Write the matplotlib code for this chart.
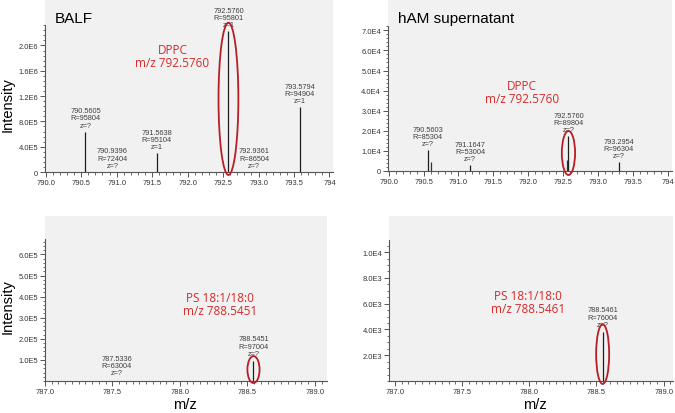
import matplotlib.pyplot as plt
import numpy as np
from matplotlib.patches import Ellipse
from matplotlib.ticker import MultipleLocator

# ---- data ----
balf_top_mz = [790.5605, 790.9396, 791.5638, 792.5760, 792.9361, 793.5794]
balf_top_int = [6.4e5, 5.0e3, 3.0e5, 2.23e6, 5.0e3, 1.03e6]
balf_top_res = [95804, 72404, 95104, 95801, 86504, 94904]
balf_top_z = ['?', '?', '1', '1', '?', '1']

ham_top_mz = [790.5603, 791.1647, 792.5760, 793.2954]
ham_top_int = [1.05e4, 3.0e3, 1.75e4, 4.5e3]
ham_top_res = [85304, 53004, 89804, 96304]
ham_top_z = ['?', '?', '?', '?']
# unlabelled shoulder peaks
ham_top_extra_mz = [790.6080, 792.5530]
ham_top_extra_int = [4.5e3, 5.5e3]

balf_bot_mz = [787.5336, 788.5451]
balf_bot_int = [2.0e3, 9.5e4]
balf_bot_res = [63004, 97004]
balf_bot_z = ['?', '?']

ham_bot_mz = [788.5461]
ham_bot_int = [3.8e3]
ham_bot_res = [76004]
ham_bot_z = ['?']

top_xticks = [790.0, 790.5, 791.0, 791.5, 792.0, 792.5, 793.0, 793.5, 794.0]
top_xlabels = ['790.0', '790.5', '791.0', '791.5', '792.0', '792.5', '793.0', '793.5', '794']
bot_xticks = [787.0, 787.5, 788.0, 788.5, 789.0]
bot_xlabels = ['787.0', '787.5', '788.0', '788.5', '789.0']

balf_top_yticks = [0, 4e5, 8e5, 1.2e6, 1.6e6, 2.0e6]
balf_top_ylabels = ['0', '4.0E5', '8.0E5', '1.2E6', '1.6E6', '2.0E6']
ham_top_yticks = [0, 1e4, 2e4, 3e4, 4e4, 5e4, 6e4, 7e4]
ham_top_ylabels = ['0', '1.0E4', '2.0E4', '3.0E4', '4.0E4', '5.0E4', '6.0E4', '7.0E4']
balf_bot_yticks = [1e5, 2e5, 3e5, 4e5, 5e5, 6e5]
balf_bot_ylabels = ['1.0E5', '2.0E5', '3.0E5', '4.0E5', '5.0E5', '6.0E5']
ham_bot_yticks = [2e3, 4e3, 6e3, 8e3, 1e4]
ham_bot_ylabels = ['2.0E3', '4.0E3', '6.0E3', '8.0E3', '1.0E4']

RED = '#d42a2a'
RING = '#b81e24'
BG = '#f1f1f1'
FONT = 'Liberation Sans'

plt.rcParams['font.family'] = FONT

fig = plt.figure(figsize=(6.75, 4.14), dpi=100)
W, H = 675, 414


def px_axes(left, right, top, bottom):
    return fig.add_axes([left / W, 1 - bottom / H, (right - left) / W, (bottom - top) / H])


def style(ax, xlim, ylim, spine_top, xticks, xlabels, xminor, yticks, ylabels, yminor):
    ax.set_facecolor(BG)
    ax.set_xlim(*xlim)
    ax.set_ylim(*ylim)
    for s in ['top', 'right']:
        ax.spines[s].set_visible(False)
    for s in ['left', 'bottom']:
        ax.spines[s].set_color('#555555')
        ax.spines[s].set_linewidth(0.8)
    ax.spines['left'].set_bounds(ylim[0], spine_top)
    ax.set_xticks(xticks)
    ax.set_xticklabels(xlabels)
    ax.set_yticks(yticks)
    ax.set_yticklabels(ylabels)
    ax.xaxis.set_minor_locator(MultipleLocator(xminor))
    ax.tick_params(which='major', length=3.5, width=0.7, color='#555555',
                   labelsize=5.4, labelcolor='#333333', pad=1.5)
    ax.tick_params(which='minor', length=1.8, width=0.6, color='#555555')
    # keep minor y ticks under the spine top
    ax.yaxis.set_minor_locator(MultipleLocator(yminor))
    ax.set_yticks([t for t in ax.get_yticks(minor=True) if 0 <= t <= spine_top], minor=True)


def draw_peaks(ax, mz, inten, res, zs, offset=2.0):
    ax.vlines(mz, 0, inten, color='#1e1e1e', linewidth=0.9)
    for m, h, r, z in zip(mz, inten, res, zs):
        ax.annotate(f'{m:.4f}\nR={r}\nz={z}', xy=(m, h), xytext=(0, offset),
                    textcoords='offset points', ha='center', va='bottom',
                    fontsize=5.3, color='#404040', linespacing=1.05)


def ring(ax, x, y0, y1, width):
    ax.add_patch(Ellipse((x, (y0 + y1) / 2), width, y1 - y0, fill=False,
                         edgecolor=RING, linewidth=1.3, clip_on=False, zorder=5))


def label_red(ax, x, y, text):
    ax.text(x, y, text, ha='center', va='center', color=RED, fontsize=8.5,
            family='Open Sans', linespacing=1.0)


# ---- BALF, DPPC region ----
ax1 = px_axes(45, 333, 0, 173)
style(ax1, (789.99, 794.05), (0, 2.735e6), 2.33e6, top_xticks, top_xlabels, 0.1,
      balf_top_yticks, balf_top_ylabels, 8e4)
draw_peaks(ax1, balf_top_mz, balf_top_int, balf_top_res, balf_top_z)
ring(ax1, 792.576, -4.7e4, 2.36e6, 0.28)
label_red(ax1, 791.785, 1.83e6, 'DPPC\nm/z 792.5760')
ax1.text(0.035, 0.89, 'BALF', transform=ax1.transAxes, fontsize=11, va='center', ha='left')

# ---- hAM supernatant, DPPC region ----
ax2 = px_axes(388, 672, 0, 172)
style(ax2, (789.99, 794.06), (0, 8.56e4), 7.2e4, top_xticks, top_xlabels, 0.1,
      ham_top_yticks, ham_top_ylabels, 2e3)
ax2.vlines(ham_top_extra_mz, 0, ham_top_extra_int, color='#333333', linewidth=0.9)
draw_peaks(ax2, ham_top_mz, ham_top_int, ham_top_res, ham_top_z)
ring(ax2, 792.576, -2e3, 1.99e4, 0.19)
label_red(ax2, 791.91, 3.93e4, 'DPPC\nm/z 792.5760')
ax2.text(0.035, 0.89, 'hAM supernatant', transform=ax2.transAxes, fontsize=11,
         va='center', ha='left')

# ---- BALF, PS region ----
ax3 = px_axes(45, 327, 217, 382)
style(ax3, (787.0, 789.09), (0, 7.82e5), 6.73e5, bot_xticks, bot_xlabels, 0.05,
      balf_bot_yticks, balf_bot_ylabels, 2e4)
draw_peaks(ax3, balf_bot_mz, balf_bot_int, balf_bot_res, balf_bot_z, offset=3.0)
ring(ax3, 788.5451, -9.5e3, 1.18e5, 0.09)
label_red(ax3, 788.296, 3.65e5, 'PS 18:1/18:0\nm/z 788.5451')

# ---- hAM supernatant, PS region ----
ax4 = px_axes(389, 673, 217, 382)
style(ax4, (786.955, 789.07), (0, 1.28e4), 1.09e4, bot_xticks, bot_xlabels, 0.05,
      ham_bot_yticks, ham_bot_ylabels, 5e2)
draw_peaks(ax4, ham_bot_mz, ham_bot_int, ham_bot_res, ham_bot_z, offset=3.0)
ring(ax4, 788.5461, -2.3e2, 4.4e3, 0.097)
label_red(ax4, 787.99, 6.12e3, 'PS 18:1/18:0\nm/z 788.5461')

# ---- shared axis titles ----
fig.text(8 / W, 1 - 105 / H, 'Intensity', rotation=90, ha='center', va='center', fontsize=10.5)
fig.text(8 / W, 1 - 307 / H, 'Intensity', rotation=90, ha='center', va='center', fontsize=10.5)
fig.text(185 / W, 1 - 405 / H, 'm/z', ha='center', va='center', fontsize=10.5)
fig.text(535 / W, 1 - 405 / H, 'm/z', ha='center', va='center', fontsize=10.5)

fig.savefig('out.png', dpi=100, facecolor='white')
